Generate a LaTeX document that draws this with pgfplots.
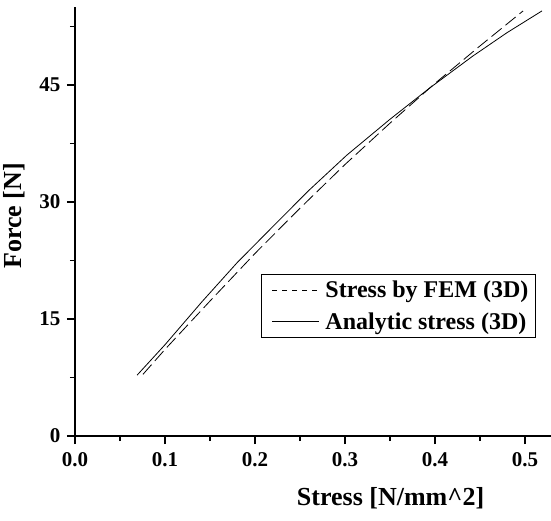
\documentclass[border=0pt]{standalone}
\usepackage{pgfplots}
\pgfplotsset{compat=1.18}
\usepackage{fontspec}
\setmainfont{Liberation Serif}
\begin{document}
\begin{tikzpicture}
\begin{axis}[
    scale only axis,
    width=476pt, height=429pt,
    xmin=0, xmax=0.529,
    ymin=0, ymax=55,
    axis lines=left,
    axis line style={-, line width=1.8pt},
    xtick={0,0.1,0.2,0.3,0.4,0.5},
    minor xtick={0.05,0.15,0.25,0.35,0.45},
    ytick={0,15,30,45},
    minor ytick={7.5,22.5,37.5,52.5},
    tick align=outside,
    major tick length=8pt,
    minor tick length=5pt,
    every tick/.style={black, line width=1.8pt},
    /pgf/number format/assume math mode=true,
    ticklabel style={font=\fontsize{21}{21}\selectfont\bfseries},
    xticklabel style={yshift=-5pt, /pgf/number format/.cd, fixed, fixed zerofill, precision=1},
    yticklabel style={xshift=-3pt},
    xlabel={Stress [N/mm\^{}2]},
    ylabel={Force [N]},
    xlabel style={font=\fontsize{26}{26}\selectfont\bfseries,
        at={(ticklabel cs:0.663)}, yshift=-14pt},
    ylabel style={font=\fontsize{26}{26}\selectfont\bfseries,
        at={(ticklabel cs:0.513)}, yshift=8pt},
    legend style={at={(0.968,0.378)}, anchor=north east, draw=black, line width=0.8pt,
        font=\fontsize{24}{24}\selectfont\bfseries, inner sep=5pt,
        legend cell align=left, row sep=9pt},
    legend image code/.code={\path (0pt,0pt) (56pt,0pt); \draw[#1] (5pt,0pt) -- (52pt,0pt);},
]
\addplot[black, line width=0.8pt, dash pattern=on 13pt off 5pt,
    legend image post style={dash pattern=on 5pt off 5pt}] coordinates {
    (0.0755,7.9) (0.1,11.1) (0.15,17.3) (0.2,23.4) (0.25,29.2)
    (0.3,34.8) (0.35,40.1) (0.4,45.2) (0.45,50.0) (0.498,54.5)
};
\addlegendentry{Stress by FEM (3D)}
\addplot[black, line width=0.8pt] coordinates {
    (0.069,7.8) (0.1,11.7) (0.141,17.2) (0.18,22.2) (0.222,27.1)
    (0.26,31.5) (0.302,36.0) (0.35,40.6) (0.394,44.6) (0.442,48.7)
    (0.48,51.7) (0.519,54.5)
};
\addlegendentry{Analytic stress (3D)}
\end{axis}
\pgfresetboundingbox
\useasboundingbox ([shift={(-75pt,-84pt)}]current axis.south west)
    rectangle ([shift={(0pt,7pt)}]current axis.north east);
\end{tikzpicture}
\end{document}
